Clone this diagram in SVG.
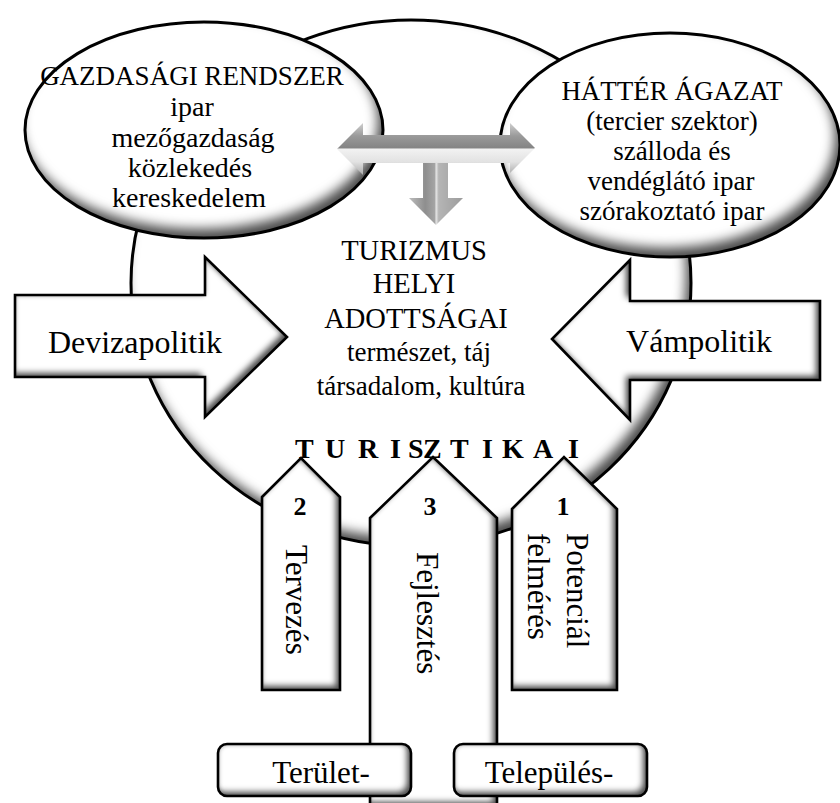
<svg xmlns="http://www.w3.org/2000/svg" xmlns:xlink="http://www.w3.org/1999/xlink" width="840" height="803" viewBox="0 0 840 803">
<style>
  text { font-family: "Liberation Serif", "Times New Roman", serif; fill: #000; }
  .ell { font-size: 27px; text-anchor: middle; }
  .ell2 { font-size: 28px; text-anchor: middle; }
  .big { font-size: 28.5px; text-anchor: middle; }
  .sm { font-size: 27px; text-anchor: middle; }
  .arr { font-size: 32px; text-anchor: middle; }
  .rot { font-size: 31px; }
  .num { font-size: 26px; font-weight: bold; text-anchor: middle; }
  .box { font-size: 31px; text-anchor: middle; }
  .tk { font-size: 28px; font-weight: bold; }
  .bf { fill: #fff; stroke: none; filter: url(#bev); }
  .bs { fill: none; stroke: #000; stroke-width: 2.6; stroke-linejoin: miter; }
  .ef { fill: #fff; stroke: none; filter: url(#esh); }
  .es { fill: none; stroke: #000; stroke-width: 3; }
</style>
<defs>
  <filter id="bev" x="-10%" y="-10%" width="120%" height="120%" color-interpolation-filters="sRGB">
    <feGaussianBlur in="SourceAlpha" stdDeviation="3" result="b"/>
    <feOffset in="b" dx="-4" dy="-4" result="o"/>
    <feComposite in="SourceAlpha" in2="o" operator="out" result="band"/>
    <feFlood flood-color="#4c4c4c" result="f"/>
    <feComposite in="f" in2="band" operator="in" result="shade"/>
    <feGaussianBlur in="SourceAlpha" stdDeviation="2.5" result="b2"/>
    <feComposite in="SourceAlpha" in2="b2" operator="out" result="band2"/>
    <feFlood flood-color="#8a8a8a" result="f2"/>
    <feComposite in="f2" in2="band2" operator="in" result="shade2"/>
    <feMerge><feMergeNode in="SourceGraphic"/><feMergeNode in="shade2"/><feMergeNode in="shade"/></feMerge>
  </filter>
  <filter id="esh" x="-5%" y="-5%" width="110%" height="110%" color-interpolation-filters="sRGB">
    <feGaussianBlur in="SourceAlpha" stdDeviation="6" result="b"/>
    <feOffset in="b" dx="-5" dy="-9" result="o"/>
    <feComposite in="SourceAlpha" in2="o" operator="out" result="band"/>
    <feFlood flood-color="#4a4a4a" result="f"/>
    <feComposite in="f" in2="band" operator="in" result="shade"/>
    <feMerge><feMergeNode in="SourceGraphic"/><feMergeNode in="shade"/></feMerge>
  </filter>
  <linearGradient id="hg" gradientUnits="userSpaceOnUse" x1="0" y1="123" x2="0" y2="175">
    <stop offset="0" stop-color="#cfcfcf"/>
    <stop offset="0.25" stop-color="#9a9a9a"/>
    <stop offset="0.48" stop-color="#848484"/>
    <stop offset="0.5" stop-color="#f2f2f2"/>
    <stop offset="0.75" stop-color="#e2e2e2"/>
    <stop offset="1" stop-color="#a8a8a8"/>
  </linearGradient>
  <linearGradient id="vg" gradientUnits="userSpaceOnUse" x1="409" y1="0" x2="463" y2="0">
    <stop offset="0" stop-color="#bdbdbd"/>
    <stop offset="0.3" stop-color="#8e8e8e"/>
    <stop offset="0.48" stop-color="#a5a5a5"/>
    <stop offset="0.5" stop-color="#e8e8e8"/>
    <stop offset="0.55" stop-color="#b5b5b5"/>
    <stop offset="1" stop-color="#9c9c9c"/>
  </linearGradient>
  <path id="pCirc" d="M131,283 a280,263 0 1,0 560,0 a280,263 0 1,0 -560,0 Z"/>
  <path id="pGaz" d="M25,130 a179,108 0 1,0 358,0 a179,108 0 1,0 -358,0 Z"/>
  <path id="pHat" d="M500,145 a170,112 0 1,0 340,0 a170,112 0 1,0 -340,0 Z"/>
  <path id="pDev" d="M15,295 L205,295 L205,257 L287,337 L205,417 L205,377 L15,377 Z"/>
  <path id="pVam" d="M820,301 L630,301 L630,260 L552,339 L630,420 L630,380 L820,380 Z"/>
  <path id="pA2" d="M262,497 L301,458 L340,497 L340,690 L262,690 Z"/>
  <path id="pA3" d="M370,518 L433,457 L497,518 L497,806 L370,806 Z"/>
  <path id="pA1" d="M512,509 L564,457 L617,509 L617,690 L512,690 Z"/>
  <rect id="rTer" x="218" y="744" width="193" height="52" rx="9" ry="9"/>
  <rect id="rTel" x="454" y="744" width="193" height="52" rx="9" ry="9"/>
</defs>

<g id="turizmus">
  <use xlink:href="#pCirc" class="ef"/>
  <use xlink:href="#pCirc" class="es"/>
  <text class="big" x="414" y="260">TURIZMUS</text>
  <text class="big" x="414" y="293">HELYI</text>
  <text class="big" x="416" y="328">ADOTTSÁGAI</text>
  <text class="sm" x="419" y="361">természet, táj</text>
  <text class="sm" x="421" y="395">társadalom, kultúra</text>
</g>

<g id="gazdasagi">
  <use xlink:href="#pGaz" class="ef"/>
  <use xlink:href="#pGaz" class="es"/>
  <text class="ell" x="192" y="85">GAZDASÁGI RENDSZER</text>
  <text class="ell2" x="192" y="116">ipar</text>
  <text class="ell2" x="193" y="147">mezőgazdaság</text>
  <text class="ell2" x="190" y="177">közlekedés</text>
  <text class="ell2" x="189" y="207">kereskedelem</text>
</g>

<g id="hatter">
  <use xlink:href="#pHat" class="ef"/>
  <use xlink:href="#pHat" class="es"/>
  <text class="ell" x="672" y="100">HÁTTÉR ÁGAZAT</text>
  <text class="ell" x="672" y="130">(tercier szektor)</text>
  <text class="ell" x="672" y="160">szálloda és</text>
  <text class="ell" x="671" y="190">vendéglátó ipar</text>
  <text class="ell" x="672" y="220">szórakoztató ipar</text>
</g>

<g id="connectors">
  <polygon points="337,149 363,123 363,135 510,135 510,123 535,148 510,173 510,163 363,163 363,175" fill="url(#hg)"/>
  <polygon points="423,163 448,163 448,198 463,198 436,225 409,198 423,198" fill="url(#vg)"/>
</g>

<g id="devizapolitik">
  <use xlink:href="#pDev" class="bf"/>
  <use xlink:href="#pDev" class="bs"/>
  <text class="arr" x="135" y="353">Devizapolitik</text>
</g>

<g id="vampolitik">
  <use xlink:href="#pVam" class="bf"/>
  <use xlink:href="#pVam" class="bs"/>
  <text class="arr" x="699" y="352">Vámpolitik</text>
</g>

<g id="tervezes">
  <use xlink:href="#pA2" class="bf"/>
  <use xlink:href="#pA2" class="bs"/>
  <text class="num" x="300" y="515">2</text>
  <text class="rot" transform="translate(286,545) rotate(90)">Tervezés</text>
</g>

<g id="fejlesztes">
  <use xlink:href="#pA3" class="bf"/>
  <use xlink:href="#pA3" class="bs"/>
  <text class="num" x="430" y="515">3</text>
  <text class="rot" transform="translate(417,552) rotate(90)">Fejlesztés</text>
</g>

<g id="potencial">
  <use xlink:href="#pA1" class="bf"/>
  <use xlink:href="#pA1" class="bs"/>
  <text class="num" x="563" y="515">1</text>
  <text class="rot" transform="translate(567,533) rotate(90)">Potenciál</text>
  <text class="rot" transform="translate(528,533) rotate(90)">felmérés</text>
</g>

<g id="turisztikai">
  <text class="tk" x="295 325 358 390 408 423 450 482 502 533 568" y="458">TURISZTIKAI</text>
</g>

<g id="terulet">
  <use xlink:href="#rTer" class="bf"/>
  <use xlink:href="#rTer" class="bs"/>
  <text class="box" x="321" y="783">Terület-</text>
</g>

<g id="telepules">
  <use xlink:href="#rTel" class="bf"/>
  <use xlink:href="#rTel" class="bs"/>
  <text class="box" x="549" y="783">Település-</text>
</g>
</svg>
